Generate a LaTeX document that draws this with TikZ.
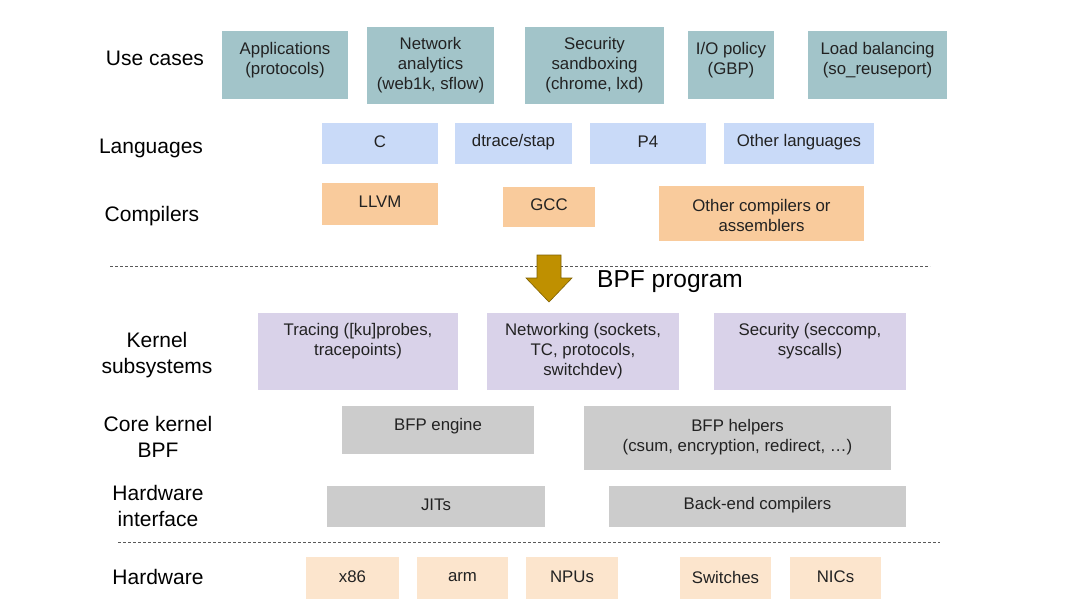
\documentclass[tikz,border=0pt]{standalone}
\usepackage{fontspec}
\setmainfont{Liberation Sans}
\definecolor{cteal}{HTML}{A2C4C9}
\definecolor{cblue}{HTML}{C9DAF8}
\definecolor{corange}{HTML}{F9CB9C}
\definecolor{cpurple}{HTML}{D9D2E9}
\definecolor{cgray}{HTML}{CCCCCC}
\definecolor{clorange}{HTML}{FCE5CD}
\definecolor{carrow}{HTML}{BF9000}
\definecolor{carrowd}{HTML}{7F6000}
\definecolor{ctext}{HTML}{222222}
\newcommand\mkbox[8]{%
  \node[box,fill=#2,minimum width=#5pt,minimum height=#6pt] (#1) at (#3,#4) {};
  \node[btxt] (#1-t) at (#3,#7) {#8};}
\begin{document}
\begin{tikzpicture}[x=1pt,y=-1pt,
  box/.style={rectangle,draw=none,inner sep=0pt},
  btxt/.style={inner sep=0pt,align=center,text=ctext,font=\fontsize{16.8}{20}\selectfont},
  lbl/.style={inner sep=0pt,align=center,text=black,font=\fontsize{21}{26}\selectfont},
  sep/.style={draw=black!65,line width=0.8pt,dash pattern=on 3pt off 2pt}]
\useasboundingbox[fill=white] (0,0) rectangle (1080,608);
% left labels
\node[lbl] (l-use) at (155,58) {Use cases};
\node[lbl] (l-lang) at (151,148) {Languages};
\node[lbl] (l-comp) at (152,216) {Compilers};
\node[lbl] (l-kern) at (157,355) {Kernel\\subsystems};
\node[lbl] (l-core) at (158,437) {Core kernel\\BPF};
\node[lbl] (l-hwi) at (158,506) {Hardware\\interface};
\node[lbl] (l-hw) at (158,577) {Hardware};
% use cases
\mkbox{app}{cteal}{285}{65}{126}{68}{60.5}{Applications\\(protocols)}
\mkbox{net}{cteal}{430.5}{65.5}{127}{77}{65.5}{Network\\analytics\\(web1k, sflow)}
\mkbox{sec}{cteal}{594.5}{65.5}{139}{77}{65.5}{Security\\sandboxing\\(chrome, lxd)}
\mkbox{io}{cteal}{731}{65}{86}{68}{60.5}{I/O policy\\(GBP)}
\mkbox{lb}{cteal}{877.5}{65}{139}{68}{60.5}{Load balancing\\(so\_reuseport)}
% languages
\mkbox{c}{cblue}{380}{143.5}{116}{41}{142}{C}
\mkbox{dt}{cblue}{513.5}{143.5}{117}{41}{142}{dtrace/stap}
\mkbox{p4}{cblue}{648}{143.5}{116}{41}{142}{P4}
\mkbox{ol}{cblue}{799}{143.5}{150}{41}{142}{Other languages}
% compilers
\mkbox{llvm}{corange}{380}{204}{116}{42}{202}{LLVM}
\mkbox{gcc}{corange}{549}{207}{92}{40}{205}{GCC}
\mkbox{oc}{corange}{761.5}{213.5}{205}{55}{215}{Other compilers or\\assemblers}
% separator 1
\coordinate (s1a) at (110,266);
\coordinate (s1b) at (930,266);
\draw[sep] (s1a) -- (s1b);
% arrow
\fill[carrow,draw=carrowd,line width=0.6pt,line join=miter]
  (537,255) -- (561,255) -- (561,278) -- (572,278) -- (549,302) -- (526,278) -- (537,278) -- cycle;
\node[inner sep=0pt,text=black,font=\fontsize{24.5}{28}\selectfont,anchor=west] (bpf) at (597,282) {BPF program};
% kernel subsystems
\mkbox{tr}{cpurple}{358}{351}{200}{77}{341}{Tracing ([ku]probes,\\tracepoints)}
\mkbox{nw}{cpurple}{583}{351}{192}{77}{351}{Networking (sockets,\\TC, protocols,\\switchdev)}
\mkbox{sc}{cpurple}{810}{351}{192}{77}{341}{Security (seccomp,\\syscalls)}
% core kernel
\mkbox{eng}{cgray}{438}{430}{192}{48}{426}{BFP engine}
\mkbox{hlp}{cgray}{737.5}{438}{307}{64}{437}{BFP helpers\\(csum, encryption, redirect, \dots)}
% hw interface
\mkbox{jit}{cgray}{436}{506.5}{218}{41}{505}{JITs}
\mkbox{bec}{cgray}{757.5}{506.5}{297}{41}{505}{Back-end compilers}
% separator 2
\coordinate (s2a) at (118,542);
\coordinate (s2b) at (940,542);
\draw[sep] (s2a) -- (s2b);
% hardware
\mkbox{x86}{clorange}{352.5}{578}{93}{42}{577}{x86}
\mkbox{arm}{clorange}{462.5}{578}{91}{42}{577}{arm}
\mkbox{npu}{clorange}{572}{578}{92}{42}{577}{NPUs}
\mkbox{sw}{clorange}{725.5}{578}{91}{42}{577}{Switches}
\mkbox{nic}{clorange}{835.5}{578}{91}{42}{577}{NICs}
\end{tikzpicture}
\end{document}
